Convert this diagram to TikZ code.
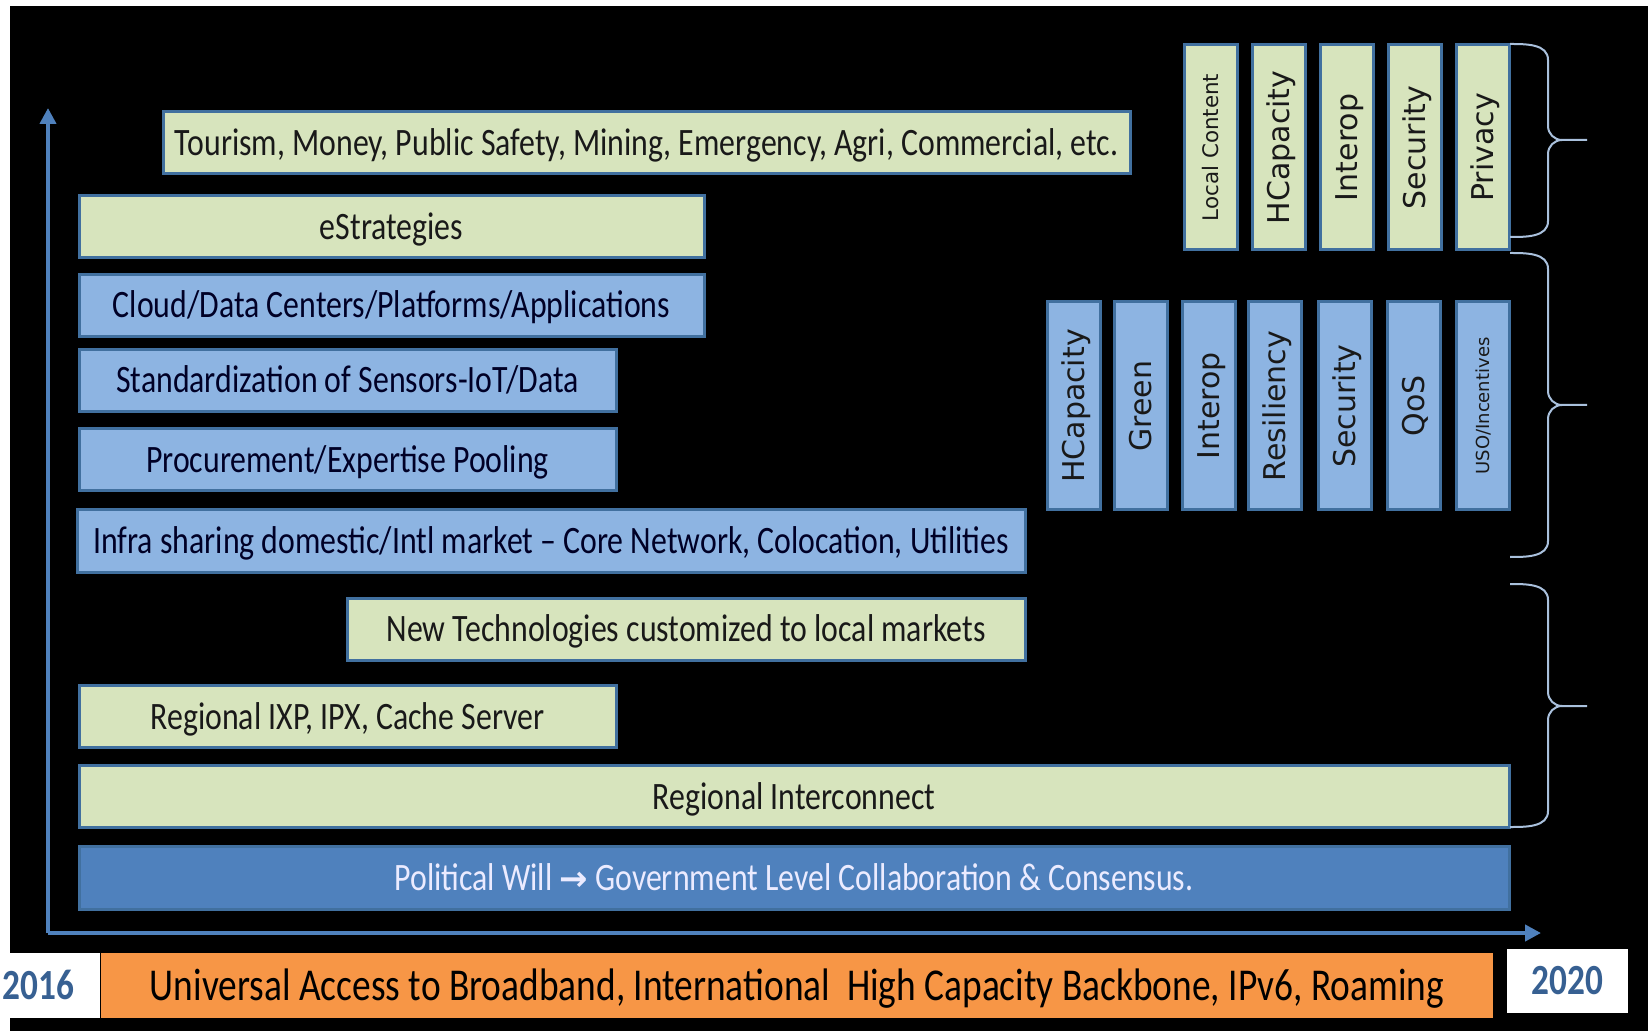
\documentclass[tikz,border=0pt]{standalone}
\usepackage{fontspec}
\setmainfont{Carlito}[FakeStretch=0.82]
\newfontfamily\labelfont{DejaVu Sans}
\usetikzlibrary{arrows.meta}

\definecolor{boxgreen}{HTML}{D7E4BD}
\definecolor{boxblue}{HTML}{8DB4E2}
\definecolor{edgeblue}{HTML}{41709F}
\definecolor{deepblue}{HTML}{4F81BD}
\definecolor{axisblue}{HTML}{4F81BD}
\definecolor{barorange}{HTML}{F79646}
\definecolor{yearblue}{HTML}{376092}
\definecolor{bracegray}{HTML}{A9C0DC}

\tikzset{
  hbox/.style = {draw = edgeblue, line width = 1.5pt, inner sep = 0pt,
                 minimum height = 31pt, text height = 12.5pt, text depth = 0pt,
                 font = \fontsize{19.4pt}{22pt}\selectfont},
  greenbox/.style = {hbox, fill = boxgreen, text = black!90},
  bluebox/.style = {hbox, fill = boxblue, text = black!85!blue},
  vbox/.style = {draw = edgeblue, line width = 1.5pt, inner sep = 0pt, rotate = 90,
                 minimum height = 26.5pt, text = black!90,
                 text height = 10.9pt, text depth = 0pt,
                 font = \labelfont\fontsize{15pt}{17pt}\selectfont},
  vgreen/.style = {vbox, fill = boxgreen, minimum width = 102.5pt},
  vblue/.style = {vbox, fill = boxblue, minimum width = 104pt},
  axis/.style = {draw = axisblue, line width = 2pt,
                 -{Triangle[length = 8pt, width = 8pt]}},
  brc/.style = {draw = bracegray, line width = 1pt},
  yeartext/.style = {font = \bfseries\fontsize{21.5pt}{24pt}\selectfont, text = yearblue,
                     text height = 13.8pt, text depth = 0pt}
}

\begin{document}
\begin{tikzpicture}[x = 0.5pt, y = -0.5pt]
    \useasboundingbox (0,0) rectangle (1648,1031);
    \fill [white] (0,0) rectangle (1648,1031);
    \fill [black] (10,6) rectangle (1648,1031);

    % axes
    \coordinate (origin) at (48,933);
    \coordinate (ytip) at (48,108);
    \coordinate (xtip) at (1541,933);
    \draw [axis] (origin) -- (ytip);
    \draw [axis] (origin) -- (xtip);

    % layers
    \node [bluebox, fill = deepblue, text = white!92!blue, minimum width = 715pt,
           minimum height = 31.5pt] (will) at (794,877.5)
        {Political Will {\labelfont\bfseries\fontsize{17pt}{20pt}\selectfont →} Government Level Collaboration \& Consensus.};
    \node [greenbox, minimum width = 715pt] (inter) at (794,796.5) {Regional Interconnect};
    \node [greenbox, minimum width = 268.5pt] (ixp) at (347.5,716.5) {Regional IXP, IPX, Cache Server};
    \node [greenbox, minimum width = 339pt] (newtech) at (686,629) {New Technologies customized to local markets};
    \node [bluebox, minimum width = 474pt] (infra) at (551,541)
        {Infra sharing domestic/Intl market -- Core Network, Colocation, Utilities};
    \node [bluebox, minimum width = 268.5pt] (proc) at (347.5,460) {Procurement/Expertise Pooling};
    \node [bluebox, minimum width = 268.5pt] (std) at (347.5,380.5) {Standardization of Sensors-IoT/Data};
    \node [bluebox, minimum width = 312.5pt] (cloud) at (391.5,305.5) {Cloud/Data Centers/Platforms/Applications};
    \node [greenbox, minimum width = 312.5pt] (estr) at (391.5,227) {eStrategies};
    \node [greenbox, minimum width = 483.5pt] (apps) at (646.5,143)
        {Tourism, Money, Public Safety, Mining, Emergency, Agri, Commercial, etc.};

    % network qualities
    \node [vblue] (hcap) at (1074,406) {HCapacity};
    \node [vblue] (green) at (1141,406) {Green};
    \node [vblue] (interop) at (1208.5,406) {Interop};
    \node [vblue] (resil) at (1275,406) {Resiliency};
    \node [vblue] (sec) at (1345,406) {Security};
    \node [vblue] (qos) at (1413.5,406) {QoS};
    \node [vblue, font = \labelfont\fontsize{9pt}{11pt}\selectfont, text height = 6.6pt] (uso)
        at (1483,406) {USO/Incentives};

    % service qualities
    \node [vgreen, font = \labelfont\fontsize{10.7pt}{12pt}\selectfont, text height = 7.8pt] (local)
        at (1210.5,147.5) {Local Content};
    \node [vgreen] (shcap) at (1279,147.5) {HCapacity};
    \node [vgreen] (sinterop) at (1346.5,147.5) {Interop};
    \node [vgreen] (ssec) at (1414.5,147.5) {Security};
    \node [vgreen] (priv) at (1482.5,147.5) {Privacy};

    % braces
    \draw [brc] (1510,44) to [out = 0, in = 90] (1548,60) -- (1548,126)
        to [out = -90, in = 180] (1562,140) -- (1587,140);
    \draw [brc] (1562,140) to [out = 180, in = 90] (1548,154) -- (1548,221)
        to [out = -90, in = 0] (1510,237);
    \draw [brc] (1510,253) to [out = 0, in = 90] (1548,269) -- (1548,391)
        to [out = -90, in = 180] (1562,405) -- (1587,405);
    \draw [brc] (1562,405) to [out = 180, in = 90] (1548,419) -- (1548,541)
        to [out = -90, in = 0] (1510,557);
    \draw [brc] (1510,584) to [out = 0, in = 90] (1548,600) -- (1548,692)
        to [out = -90, in = 180] (1562,706) -- (1587,706);
    \draw [brc] (1562,706) to [out = 180, in = 90] (1548,720) -- (1548,811)
        to [out = -90, in = 0] (1510,827);

    % time line
    \node [fill = barorange, inner sep = 0pt, minimum width = 696pt, minimum height = 32.5pt,
           text height = 14.7pt, text depth = 0pt,
           font = \fontsize{22.8pt}{25pt}\selectfont] (access) at (797,985.5)
        {Universal Access to Broadband, International\ \ High Capacity Backbone, IPv6, Roaming};
    \node [yeartext, fill = white, minimum height = 32.5pt, text width = 48pt,
           inner xsep = 1pt, inner ysep = 0pt, align = left, anchor = west] (start) at (0,985.5) {2016};
    \node [yeartext, fill = white, inner sep = 0pt, minimum width = 60.5pt,
           minimum height = 32pt] (end) at (1567.5,981) {2020};
\end{tikzpicture}
\end{document}
